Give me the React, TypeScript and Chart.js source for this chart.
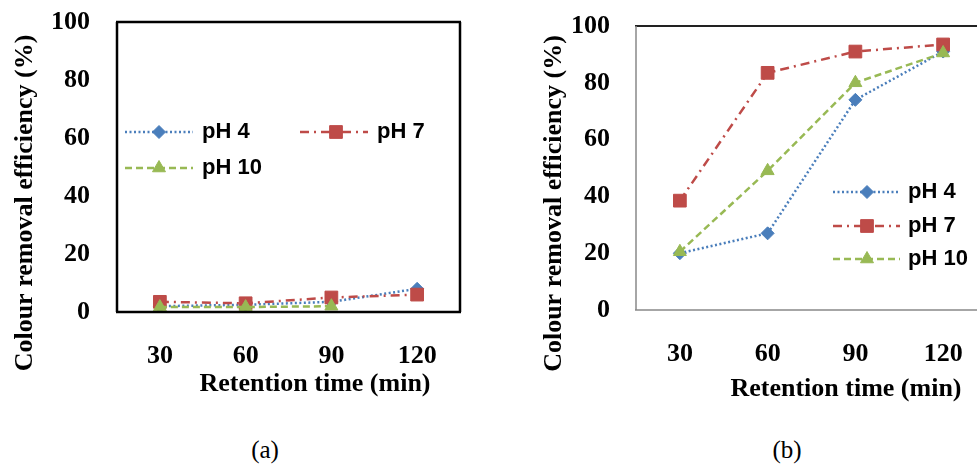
import React, { useEffect, useRef } from 'react';
import { Chart, registerables } from 'chart.js';

Chart.register(...registerables);

// ---------- data ----------
const categories = ['30', '60', '90', '120'];
const yTicks = [0, 20, 40, 60, 80, 100];
const seriesNames = ['pH 4', 'pH 7', 'pH 10'];

const aPH4 = [2, 2.5, 3.5, 8];
const aPH7 = [3.5, 3, 5, 6];
const aPH10 = [1.7, 1.7, 2, null];

const bPH4 = [20, 27, 74, 91];
const bPH7 = [38.5, 83.5, 91, 93.5];
const bPH10 = [20.5, 49, 80, 90.5];

const yTitle = 'Colour removal efficiency (%)';
const xTitle = 'Retention time (min)';
const captions = ['(a)', '(b)'];

// ---------- styles ----------
const SERIES_STYLE = [
  { color: '#4A7EBB', dash: [2, 2.5], width: 2.5, pointStyle: 'rectRot', radius: 6.5, order: 2 },
  { color: '#BE4B48', dash: [9, 5, 2, 5], width: 2.5, pointStyle: 'rect', radius: 9, order: 1 },
  { color: '#98B954', dash: [7, 4], width: 2.5, pointStyle: 'triangle', radius: 7.5, order: 0 },
];

const TICK_FONT = { family: '"Liberation Serif", "Times New Roman", serif', size: 26, weight: 'bold' as const };
const TITLE_FONT = 'bold 26px "Liberation Serif", "Times New Roman", serif';
const LEGEND_FONT = 'bold 22px "Liberation Sans", Arial, sans-serif';

function drawMarker(ctx: CanvasRenderingContext2D, style: string, r: number, x: number, y: number, color: string) {
  ctx.save();
  ctx.fillStyle = color;
  ctx.strokeStyle = color;
  ctx.lineWidth = 1;
  ctx.setLineDash([]);
  ctx.beginPath();
  if (style === 'rect') {
    const s = Math.SQRT1_2 * r;
    ctx.rect(x - s, y - s, 2 * s, 2 * s);
  } else if (style === 'rectRot') {
    ctx.moveTo(x - r, y);
    ctx.lineTo(x, y - r);
    ctx.lineTo(x + r, y);
    ctx.lineTo(x, y + r);
    ctx.closePath();
  } else {
    const w = r * Math.sin(Math.PI / 3);
    ctx.moveTo(x, y - r);
    ctx.lineTo(x + w, y + r / 2);
    ctx.lineTo(x - w, y + r / 2);
    ctx.closePath();
  }
  ctx.fill();
  ctx.stroke();
  ctx.restore();
}

type LegendItem = { i: number; x1: number; x2: number; mx: number; y: number; tx: number };
type Side = { color: string; width: number } | null;
type Panel = {
  left: number;
  width: number;
  height: number;
  data: (number | null)[][];
  padding: { top: number; right: number; left: number; bottom: number };
  yWidth: number;
  xHeight: number;
  yTickPad: number;
  xTickPad: number;
  frame: { top: Side; right: Side; bottom: Side; left: Side };
  legend: LegendItem[];
  yTitlePos: [number, number];
  xTitlePos: [number, number];
};

const panels: Panel[] = [
  {
    left: 0,
    width: 480,
    height: 410,
    data: [aPH4, aPH7, aPH10],
    padding: { top: 22, right: 20, left: 0, bottom: 0 },
    yWidth: 117,
    xHeight: 98,
    yTickPad: 27,
    xTickPad: 29,
    frame: {
      top: { color: '#000', width: 2.5 },
      right: { color: '#000', width: 2.5 },
      bottom: { color: '#000', width: 2.5 },
      left: { color: '#000', width: 2.5 },
    },
    legend: [
      { i: 0, x1: 125, x2: 193, mx: 159, y: 132, tx: 202 },
      { i: 1, x1: 300, x2: 368, mx: 336, y: 132, tx: 377 },
      { i: 2, x1: 125, x2: 193, mx: 159, y: 168, tx: 202 },
    ],
    yTitlePos: [25, 203],
    xTitlePos: [315, 384],
  },
  {
    left: 490,
    width: 520,
    height: 410,
    data: [bPH4, bPH7, bPH10],
    padding: { top: 26, right: 23, left: 0, bottom: 0 },
    yWidth: 146,
    xHeight: 100,
    yTickPad: 26,
    xTickPad: 29,
    frame: {
      top: { color: '#222', width: 2 },
      right: { color: '#888', width: 1.5 },
      bottom: { color: '#888', width: 1.5 },
      left: { color: '#888', width: 1.5 },
    },
    legend: [
      { i: 0, x1: 343, x2: 410, mx: 377, y: 192, tx: 418 },
      { i: 1, x1: 343, x2: 410, mx: 377, y: 226, tx: 418 },
      { i: 2, x1: 343, x2: 410, mx: 377, y: 259, tx: 418 },
    ],
    yTitlePos: [64, 203.5],
    xTitlePos: [356, 389],
  },
];

function makePlugins(p: Panel) {
  const framePlugin = {
    id: 'frame',
    afterDatasetsDraw(chart: any) {
      const { ctx, chartArea: a } = chart;
      const line = (s: Side, x1: number, y1: number, x2: number, y2: number) => {
        if (!s) return;
        ctx.save();
        ctx.strokeStyle = s.color;
        ctx.lineWidth = s.width;
        ctx.setLineDash([]);
        ctx.beginPath();
        ctx.moveTo(x1, y1);
        ctx.lineTo(x2, y2);
        ctx.stroke();
        ctx.restore();
      };
      const f = p.frame;
      line(f.top, a.left - 1, a.top, a.right + 1, a.top);
      line(f.bottom, a.left - 1, a.bottom, a.right + 1, a.bottom);
      line(f.left, a.left, a.top, a.left, a.bottom);
      line(f.right, a.right, a.top, a.right, a.bottom);
    },
  };
  const legendPlugin = {
    id: 'customLegend',
    afterDraw(chart: any) {
      const ctx = chart.ctx as CanvasRenderingContext2D;
      p.legend.forEach((it) => {
        const ds = chart.data.datasets[it.i];
        ctx.save();
        ctx.strokeStyle = ds.borderColor;
        ctx.lineWidth = ds.borderWidth;
        ctx.setLineDash(ds.borderDash || []);
        ctx.beginPath();
        ctx.moveTo(it.x1, it.y);
        ctx.lineTo(it.x2, it.y);
        ctx.stroke();
        ctx.restore();
        drawMarker(ctx, ds.pointStyle, ds.pointRadius, it.mx, it.y, ds.pointBackgroundColor);
        ctx.save();
        ctx.fillStyle = '#000';
        ctx.font = LEGEND_FONT;
        ctx.textAlign = 'left';
        ctx.textBaseline = 'middle';
        ctx.fillText(ds.label, it.tx, it.y);
        ctx.restore();
      });
    },
  };
  const titlePlugin = {
    id: 'axisTitles',
    afterDraw(chart: any) {
      const ctx = chart.ctx as CanvasRenderingContext2D;
      ctx.save();
      ctx.fillStyle = '#000';
      ctx.font = TITLE_FONT;
      ctx.textAlign = 'center';
      ctx.textBaseline = 'middle';
      ctx.fillText(xTitle, p.xTitlePos[0], p.xTitlePos[1]);
      ctx.translate(p.yTitlePos[0], p.yTitlePos[1]);
      ctx.rotate(-Math.PI / 2);
      ctx.fillText(yTitle, 0, 0);
      ctx.restore();
    },
  };
  return [framePlugin, legendPlugin, titlePlugin];
}

function Panel({ p }: { p: Panel }) {
  const ref = useRef<HTMLCanvasElement>(null);
  useEffect(() => {
    if (!ref.current) return;
    const chart = new Chart(ref.current, {
      type: 'line',
      data: {
        labels: categories,
        datasets: seriesNames.map((name, i) => {
          const s = SERIES_STYLE[i];
          return {
            label: name,
            data: p.data[i],
            borderColor: s.color,
            backgroundColor: s.color,
            borderWidth: s.width,
            borderDash: s.dash,
            pointStyle: s.pointStyle as any,
            pointRadius: s.radius,
            pointBackgroundColor: s.color,
            pointBorderColor: s.color,
            pointBorderWidth: 1,
            tension: 0,
            fill: false,
            clip: false as any,
            order: s.order,
            spanGaps: false,
          };
        }),
      },
      options: {
        responsive: false,
        animation: false,
        devicePixelRatio: 1,
        layout: { padding: p.padding },
        plugins: {
          legend: { display: false },
          tooltip: { enabled: false },
          title: { display: false },
        },
        scales: {
          x: {
            type: 'category',
            offset: true,
            grid: { display: false, drawTicks: false },
            border: { display: false },
            ticks: { color: '#000', font: TICK_FONT, padding: p.xTickPad, maxRotation: 0 },
            afterFit: (scale: any) => {
              scale.height = p.xHeight;
              scale.paddingLeft = 0;
              scale.paddingRight = 0;
            },
          },
          y: {
            type: 'linear',
            min: yTicks[0],
            max: yTicks[yTicks.length - 1],
            grid: { display: false, drawTicks: false },
            border: { display: false },
            ticks: { color: '#000', font: TICK_FONT, padding: p.yTickPad, stepSize: 20 },
            afterBuildTicks: (scale: any) => {
              scale.ticks = yTicks.map((v) => ({ value: v }));
            },
            afterFit: (scale: any) => {
              scale.width = p.yWidth;
              scale.paddingTop = 0;
              scale.paddingBottom = 0;
            },
          },
        },
      },
      plugins: makePlugins(p),
    });
    return () => chart.destroy();
  }, []);
  return (
    <canvas
      ref={ref}
      width={p.width}
      height={p.height}
      style={{ position: 'absolute', left: p.left, top: 0, width: p.width, height: p.height }}
    />
  );
}

export default function App() {
  return (
    <div
      style={{
        position: 'fixed',
        left: 0,
        top: 0,
        width: 977,
        height: 466,
        overflow: 'hidden',
        background: '#fff',
      }}
    >
      {panels.map((p, i) => (
        <Panel key={i} p={p} />
      ))}
      {captions.map((c, i) => (
        <div
          key={c}
          style={{
            position: 'absolute',
            left: i === 0 ? 215 : 737,
            top: 436,
            width: 100,
            textAlign: 'center',
            fontFamily: '"Liberation Serif", "Times New Roman", serif',
            fontSize: 25,
            lineHeight: '28px',
            color: '#000',
          }}
        >
          {c}
        </div>
      ))}
    </div>
  );
}
